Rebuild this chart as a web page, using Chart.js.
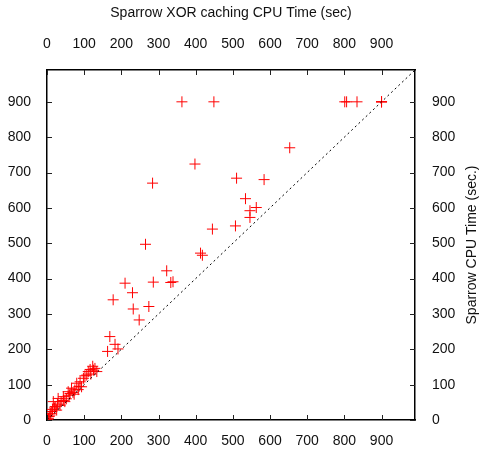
<!DOCTYPE html>
<html>
<head>
<meta charset="utf-8">
<script src="https://cdn.jsdelivr.net/npm/chart.js@4"></script>
<style>
  html, body { margin: 0; padding: 0; background: #fff; }
  #wrap { width: 480px; height: 452px; }
</style>
</head>
<body>
<div id="wrap"><canvas id="c" width="480" height="452"></canvas></div>
<script>
// ---- data ----
const xorTime = [
  363, 449, 801, 806, 834, 900, 900, 900,
  653, 398, 284, 510, 584, 534, 546, 563, 546, 507, 445, 265, 413, 418,
  322, 210, 286, 333, 339, 230, 178, 232, 274, 248, 169, 183, 163, 191,
  2, 4, 6, 8, 10, 13, 15, 17, 20, 22, 26, 28, 30, 35, 38, 44, 44, 48, 52,
  57, 60, 62, 66, 70, 73, 75, 80, 84, 86, 89, 93, 98, 102, 107, 111, 116,
  118, 123, 125, 129, 134
];
const sparrowTime = [
  900, 900, 900, 900, 900, 900, 900, 900,
  770, 724, 670, 684, 680, 626, 592, 601, 573, 549, 540, 497, 472, 466,
  422, 387, 390, 389, 391, 360, 340, 314, 321, 283, 236, 214, 194, 201,
  2, 5, 10, 14, 18, 24, 30, 52, 34, 38, 28, 45, 61, 42, 52, 66, 55, 52, 60,
  80, 70, 75, 90, 78, 73, 85, 104, 86, 95, 108, 94, 118, 125, 127, 137, 143,
  130, 152, 141, 146, 137
];
const tickValues = [0, 100, 200, 300, 400, 500, 600, 700, 800, 900];
const axisMax = 990;
const diagonal = [0, axisMax];
const xTitle = 'Sparrow XOR caching CPU Time (sec)';
const yTitle = 'Sparrow CPU Time (sec.)';

// ---- chart ----
const FONT = "'Liberation Sans', Arial, sans-serif";
Chart.defaults.font.family = FONT;
Chart.defaults.font.size = 14;
Chart.defaults.color = '#000';

const points = xorTime.map((x, i) => ({ x: x, y: sparrowTime[i] }));
const diagPoints = diagonal.map(v => ({ x: v, y: v }));

function setTicks(scale) { scale.ticks = tickValues.map(v => ({ value: v })); }

function axis(position, size, padding) {
  return {
    type: 'linear',
    position: position,
    min: 0,
    max: axisMax,
    afterBuildTicks: setTicks,
    afterFit: (s) => { if (s.isHorizontal()) s.height = size; else s.width = size; },
    grid: { display: false, drawTicks: false },
    border: { display: true, color: '#000', width: 1.5 },
    ticks: { padding: padding, color: '#111', maxRotation: 0, autoSkip: false }
  };
}

const innerTicks = {
  id: 'innerTicks',
  afterDraw(chart) {
    const ctx = chart.ctx;
    const a = chart.chartArea;
    const L = 5;
    ctx.save();
    ctx.strokeStyle = '#222';
    ctx.lineWidth = 1;
    ctx.beginPath();
    const sx = chart.scales.x, sy = chart.scales.y;
    tickValues.forEach(v => {
      const px = Math.round(sx.getPixelForValue(v)) + 0.5;
      ctx.moveTo(px, a.bottom); ctx.lineTo(px, a.bottom - L);
      ctx.moveTo(px, a.top); ctx.lineTo(px, a.top + L);
      const py = Math.round(sy.getPixelForValue(v)) + 0.5;
      ctx.moveTo(a.left, py); ctx.lineTo(a.left + L, py);
      ctx.moveTo(a.right, py); ctx.lineTo(a.right - L, py);
    });
    ctx.stroke();
    // right-side rotated title (reads bottom to top)
    ctx.fillStyle = '#111';
    ctx.font = "14px " + FONT;
    ctx.textAlign = 'center';
    ctx.textBaseline = 'middle';
    ctx.translate(472, (a.top + a.bottom) / 2);
    ctx.rotate(-Math.PI / 2);
    ctx.fillText(yTitle, 0, 0);
    ctx.restore();
  }
};

new Chart(document.getElementById('c'), {
  type: 'scatter',
  data: {
    datasets: [
      {
        label: 'diag',
        type: 'line',
        data: diagPoints,
        borderColor: '#000',
        borderWidth: 1,
        borderDash: [2, 3],
        pointRadius: 0,
        fill: false
      },
      {
        label: 'runs',
        data: points,
        pointStyle: 'cross',
        pointRadius: 5.5,
        pointBorderWidth: 1,
        borderColor: 'rgb(255,0,0)',
        backgroundColor: 'rgb(255,0,0)',
        pointHoverRadius: 5.5
      }
    ]
  },
  options: {
    responsive: false,
    animation: false,
    layout: { padding: 0 },
    plugins: { legend: { display: false }, tooltip: { enabled: false } },
    scales: {
      x: axis('bottom', 32, 13),
      x2: Object.assign(axis('top', 70, 17), {
        title: { display: true, text: xTitle, padding: { top: 5, bottom: 0 }, color: '#111' }
      }),
      y: axis('left', 47, 16),
      y2: axis('right', 65, 17)
    }
  },
  plugins: [innerTicks]
});
</script>
</body>
</html>
